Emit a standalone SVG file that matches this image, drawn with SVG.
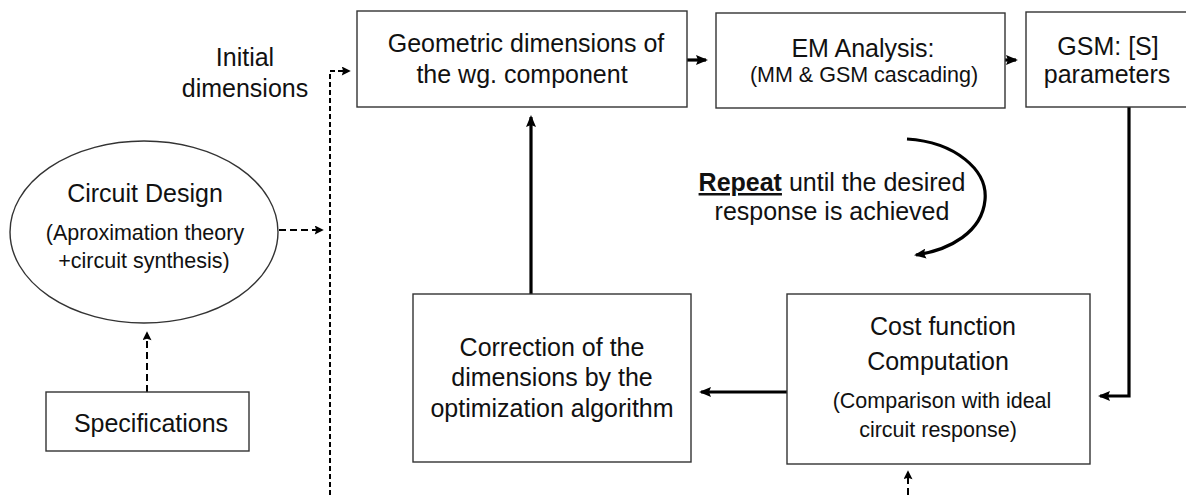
<svg xmlns="http://www.w3.org/2000/svg" width="1186" height="495" viewBox="0 0 1186 495">
<style>
text{font-family:"Liberation Sans",Arial,sans-serif;fill:#111;text-anchor:middle}
.m{font-size:25px}
.s{font-size:21.5px}
.box{fill:#fff;stroke:#333;stroke-width:1.4}
.sol{fill:none;stroke:#000;stroke-width:3.2}
.d1{fill:none;stroke:#000;stroke-width:2;stroke-dasharray:5 3}
.d2{fill:none;stroke:#000;stroke-width:2;stroke-dasharray:7 4}
</style>
<defs>
<marker id="ah" viewBox="0 0 12 10" refX="10" refY="5" markerWidth="12" markerHeight="10" markerUnits="userSpaceOnUse" orient="auto">
<path d="M0,0 L12,5 L0,10 L2,5 z" fill="#000"/>
</marker>
<marker id="as" viewBox="0 0 10 10" refX="8" refY="5" markerWidth="10" markerHeight="9" markerUnits="userSpaceOnUse" orient="auto">
<path d="M0,0 L10,5 L0,10 L1.5,5 z" fill="#000"/>
</marker>
</defs>
<rect width="1186" height="495" fill="#fff"/>

<g id="connectors">
<path class="sol" d="M687,60 H706" marker-end="url(#ah)"/>
<path class="sol" d="M990,60 H1016" marker-end="url(#ah)"/>
<path class="sol" d="M531,294 V117" marker-end="url(#ah)"/>
<path class="sol" d="M1129,107 V396 H1100" marker-end="url(#ah)"/>
<path class="sol" d="M787,392 H701" marker-end="url(#ah)"/>
<path class="sol" d="M907,139 C955,142 988,170 985,200 C982,232 950,250 916,255" marker-end="url(#ah)"/>
<path class="d1" d="M330,495 V71 H349" marker-end="url(#as)"/>
<path class="d2" d="M279,230 H322" marker-end="url(#as)"/>
<path class="d2" d="M147,392 V333" marker-end="url(#as)"/>
<path class="d2" d="M908,495 V472" marker-end="url(#as)"/>
</g>

<g id="initial-label">
<text class="m" x="245" y="66">Initial</text>
<text class="m" x="245" y="97">dimensions</text>
</g>

<g id="geometric">
<rect class="box" x="357" y="11" width="330" height="96"/>
<text class="m" x="526" y="52">Geometric dimensions of</text>
<text class="m" x="522" y="83">the wg. component</text>
</g>

<g id="em">
<rect class="box" x="716" y="13" width="289" height="95"/>
<text class="m" x="863" y="57">EM Analysis:</text>
<text class="s" x="864" y="82">(MM &amp; GSM cascading)</text>
</g>

<g id="gsm">
<rect class="box" x="1026" y="12" width="170" height="95"/>
<text class="m" x="1108" y="55">GSM: [S]</text>
<text class="m" x="1107" y="83">parameters</text>
</g>

<g id="repeat-label">
<text class="m" x="832" y="191"><tspan font-weight="bold" text-decoration="underline">Repeat</tspan> until the desired</text>
<text class="m" x="832" y="220">response is achieved</text>
</g>

<g id="circuit-design">
<ellipse class="box" cx="144" cy="232" rx="134" ry="91"/>
<text class="m" x="145" y="202">Circuit Design</text>
<text class="s" x="145" y="240">(Aproximation theory</text>
<text class="s" x="144" y="268">+circuit synthesis)</text>
</g>

<g id="specifications">
<rect class="box" x="46" y="392" width="203" height="59"/>
<text class="m" x="151" y="432">Specifications</text>
</g>

<g id="correction">
<rect class="box" x="413" y="294" width="278" height="168"/>
<text class="m" x="552" y="356">Correction of the</text>
<text class="m" x="552" y="386">dimensions by the</text>
<text class="m" x="552" y="417">optimization algorithm</text>
</g>

<g id="cost">
<rect class="box" x="787" y="294" width="303" height="170"/>
<text class="m" x="943" y="335">Cost function</text>
<text class="m" x="938" y="370">Computation</text>
<text class="s" x="942" y="408">(Comparison with ideal</text>
<text class="s" x="938" y="437">circuit response)</text>
</g>
</svg>
